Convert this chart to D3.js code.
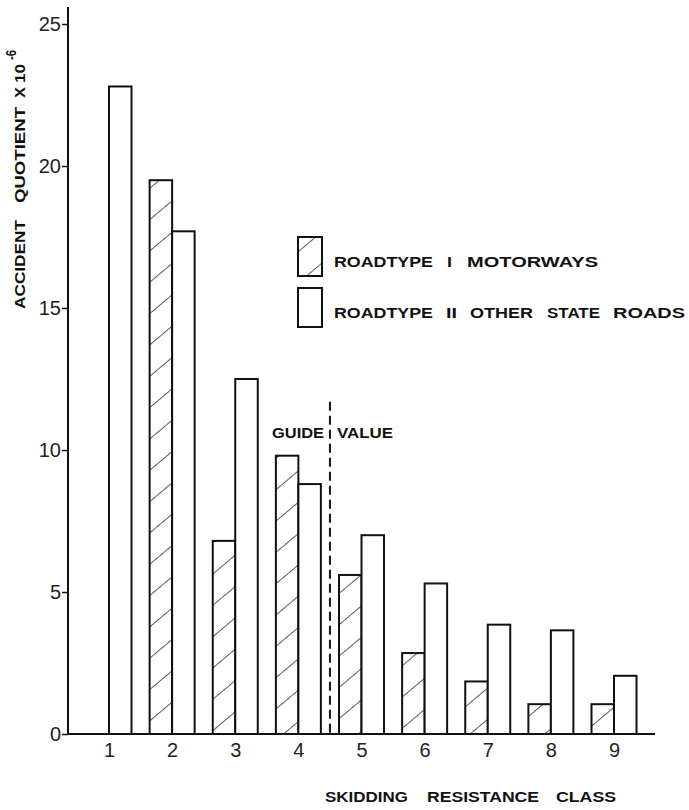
<!DOCTYPE html>
<html>
<head>
<meta charset="utf-8">
<script src="https://cdn.jsdelivr.net/npm/d3@7"></script>
<style>
  body { margin: 0; background: #fff; }
  svg { display: block; font-family: "Liberation Sans", Arial, sans-serif; }
  .tick-label { font-size: 20px; fill: #222; }
  .caps { font-weight: bold; font-size: 14px; fill: #111; }
</style>
</head>
<body>
<div id="chart"></div>
<script>
const width = 689, height = 810;

// data
const classes = [1, 2, 3, 4, 5, 6, 7, 8, 9];
const motorways = [null, 19.5, 6.8, 9.8, 5.6, 2.85, 1.85, 1.05, 1.05];   // roadtype I
const otherRoads = [22.8, 17.7, 12.5, 8.8, 7.0, 5.3, 3.85, 3.65, 2.05]; // roadtype II
const yTicks = [0, 5, 10, 15, 20, 25];
const guideValue = 4.5; // between class 4 and 5

const svg = d3.select("#chart")
    .append("svg")
    .attr("width", width)
    .attr("height", height)
    .attr("viewBox", `0 0 ${width} ${height}`);

// widely spaced caps words, each stretched to its span [start, end]
const drawWords = (parent, words, y) => {
    words.forEach(([txt, x0, x1]) => {
        parent.append("text")
            .attr("class", "caps")
            .attr("x", x0)
            .attr("y", y)
            .attr("textLength", x1 - x0)
            .attr("lengthAdjust", "spacingAndGlyphs")
            .text(txt);
    });
};

// hatch pattern for roadtype I
const defs = svg.append("defs");
defs.append("pattern")
    .attr("id", "hatch")
    .attr("patternUnits", "userSpaceOnUse")
    .attr("width", 24)
    .attr("height", 24)
    .attr("patternTransform", "rotate(-40)")
    .append("line")
        .attr("x1", 0).attr("y1", 0)
        .attr("x2", 24).attr("y2", 0)
        .attr("stroke", "#333")
        .attr("stroke-width", 1.6);

const xScale = d3.scalePoint()
    .domain(classes)
    .range([109, 614]);

const xSub = d3.scaleBand()
    .domain(["I", "II"])
    .range([-22.5, 22.5]);

const yScale = d3.scaleLinear()
    .domain([0, 25])
    .range([734, 24]);

const xCont = d3.scaleLinear()
    .domain([1, 9])
    .range([109, 614]);

// bars
const bars = svg.append("g");
classes.forEach((c, i) => {
    if (motorways[i] != null) {
        bars.append("rect")
            .attr("x", xScale(c) + xSub("I"))
            .attr("y", yScale(motorways[i]))
            .attr("width", xSub.bandwidth())
            .attr("height", yScale(0) - yScale(motorways[i]))
            .attr("fill", "url(#hatch)")
            .attr("stroke", "#111")
            .attr("stroke-width", 2);
    }
    bars.append("rect")
        .attr("x", xScale(c) + xSub("II"))
        .attr("y", yScale(otherRoads[i]))
        .attr("width", xSub.bandwidth())
        .attr("height", yScale(0) - yScale(otherRoads[i]))
        .attr("fill", "#fff")
        .attr("stroke", "#111")
        .attr("stroke-width", 2);
});

// guide value line
svg.append("line")
    .attr("x1", xCont(guideValue)).attr("x2", xCont(guideValue))
    .attr("y1", yScale(11.7)).attr("y2", yScale(0))
    .attr("stroke", "#111")
    .attr("stroke-width", 2)
    .attr("stroke-dasharray", "9,5");

drawWords(svg, [["GUIDE", 272, 324], ["VALUE", 337, 393]], 438);

// axes
const leftAxis = d3.axisLeft(yScale)
    .tickValues(yTicks)
    .tickSize(6)
    .tickPadding(1);
const gy = svg.append("g")
    .attr("transform", "translate(68,0)")
    .call(leftAxis);
gy.select(".domain").remove();
gy.selectAll(".tick line").attr("stroke", "#111").attr("stroke-width", 1.5);
gy.selectAll(".tick text").attr("class", "tick-label").attr("font-size", null).attr("font-family", null);
gy.append("line")
    .attr("x1", 0).attr("x2", 0)
    .attr("y1", 7).attr("y2", yScale(0) + 1)
    .attr("stroke", "#111").attr("stroke-width", 2);

const bottomAxis = d3.axisBottom(xScale)
    .tickSize(0)
    .tickPadding(9);
const gx = svg.append("g")
    .attr("transform", `translate(0,${yScale(0)})`)
    .call(bottomAxis);
gx.select(".domain").remove();
gx.selectAll(".tick text").attr("class", "tick-label").attr("font-size", null).attr("font-family", null);
gx.append("line")
    .attr("x1", 67).attr("x2", 655)
    .attr("y1", 0).attr("y2", 0)
    .attr("stroke", "#111").attr("stroke-width", 2);

// axis labels
drawWords(svg, [["SKIDDING", 325, 408], ["RESISTANCE", 427, 539], ["CLASS", 556, 616]], 802);

// y label, rotated: spans given as [top, bottom] in page y
const yLab = svg.append("g").attr("transform", "translate(25,0) rotate(-90)");
const yWords = [["ACCIDENT", 220, 309], ["QUOTIENT", 107, 203], ["X", 87, 98], ["10", 64, 83]];
drawWords(yLab, yWords.map(([t, a, b]) => [t, -b, -a]), 0);
yLab.append("text")
    .attr("class", "caps")
    .attr("x", -60)
    .attr("y", -9)
    .attr("font-size", "10px")
    .attr("textLength", 10)
    .attr("lengthAdjust", "spacingAndGlyphs")
    .text("-6");

// legend
const legend = svg.append("g");
const legendY = [237, 288];
const legendWords = [
    [["ROADTYPE", 334, 433], ["I", 447, 452], ["MOTORWAYS", 467, 598]],
    [["ROADTYPE", 334, 433], ["II", 446, 457], ["OTHER", 470, 533], ["STATE", 547, 600], ["ROADS", 613, 685]]
];
legendY.forEach((ly, i) => {
    legend.append("rect")
        .attr("x", 298)
        .attr("y", ly)
        .attr("width", 24)
        .attr("height", 39)
        .attr("fill", i === 0 ? "url(#hatch)" : "#fff")
        .attr("stroke", "#111")
        .attr("stroke-width", 2);
    drawWords(legend, legendWords[i], ly + 30);
});
</script>
</body>
</html>
